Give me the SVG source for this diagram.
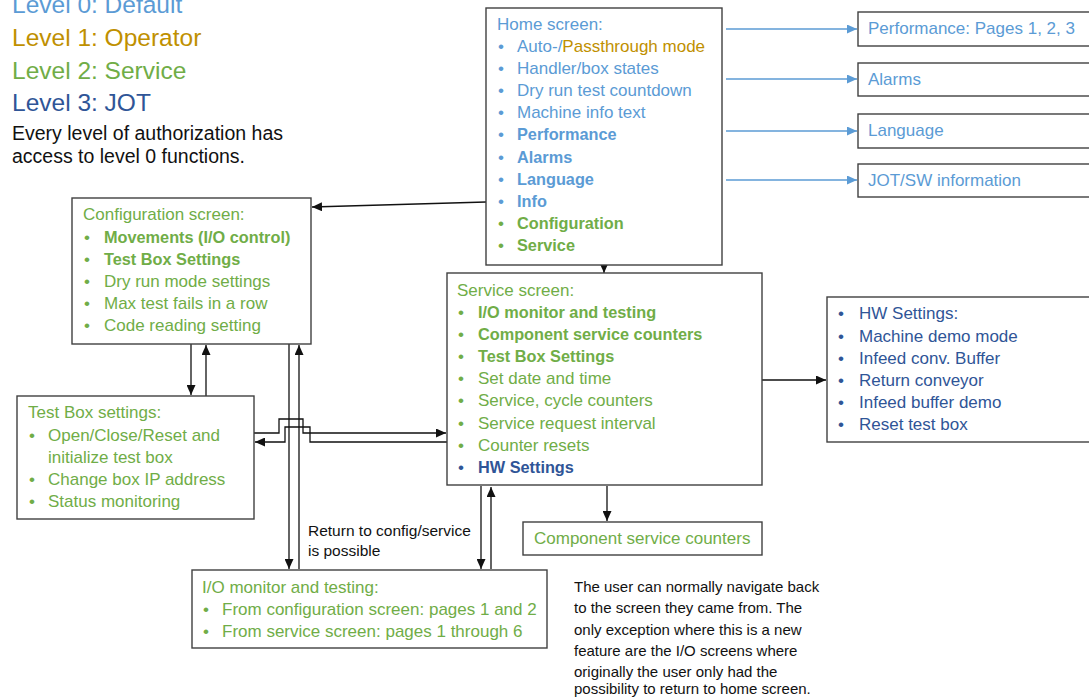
<svg xmlns="http://www.w3.org/2000/svg" width="1089" height="697" viewBox="0 0 1089 697">
<style>
text{font-family:"Liberation Sans",Arial,sans-serif;font-size:17px}
.lb{fill:#5B9BD5}.or{fill:#BF9000}.gr{fill:#70AD47}.db{fill:#2F5597}.bk{fill:#111}
.b{font-weight:bold;font-size:16.3px}
.box{fill:#fff;stroke:#404040;stroke-width:1.4}
.c{fill:none;stroke:#111;stroke-width:1.3}
.cb{fill:none;stroke:#5B9BD5;stroke-width:1.3}
.leg{font-size:24.5px}
.note{font-size:15px}
</style>
<defs>
<marker id="ah" markerUnits="userSpaceOnUse" markerWidth="11" markerHeight="9" refX="10" refY="4.5" orient="auto"><path d="M0,0 L10,4.5 L0,9 z" fill="#111"/></marker>
<marker id="ahb" markerUnits="userSpaceOnUse" markerWidth="11" markerHeight="9" refX="10" refY="4.5" orient="auto"><path d="M0,0 L10,4.5 L0,9 z" fill="#5B9BD5"/></marker>
</defs>
<rect width="1089" height="697" fill="#fff"/>

<g id="legend">
<text class="leg lb" x="12" y="13">Level 0: Default</text>
<text class="leg or" x="12" y="46">Level 1: Operator</text>
<text class="leg gr" x="12" y="79">Level 2: Service</text>
<text class="leg db" x="12" y="111">Level 3: JOT</text>
<text class="bk" style="font-size:19.5px" x="12" y="140">Every level of authorization has</text>
<text class="bk" style="font-size:19.5px" x="12" y="163">access to level 0 functions.</text>
</g>

<g id="connectors">
<line class="cb" x1="726" y1="29" x2="857" y2="29" marker-end="url(#ahb)"/>
<line class="cb" x1="726" y1="79" x2="857" y2="79" marker-end="url(#ahb)"/>
<line class="cb" x1="726" y1="131" x2="857" y2="131" marker-end="url(#ahb)"/>
<line class="cb" x1="726" y1="180" x2="857" y2="180" marker-end="url(#ahb)"/>
<line class="c" x1="486" y1="202" x2="312" y2="207" marker-end="url(#ah)"/>
<line class="c" x1="604" y1="262" x2="604" y2="273" marker-end="url(#ah)"/>
<line class="c" x1="191" y1="344" x2="191" y2="395" marker-end="url(#ah)"/>
<line class="c" x1="206" y1="396" x2="206" y2="345" marker-end="url(#ah)"/>
<line class="c" x1="289" y1="344" x2="289" y2="569" marker-end="url(#ah)"/>
<line class="c" x1="299" y1="569" x2="299" y2="345" marker-end="url(#ah)"/>
<polyline class="c" points="254,433 279,433 279,419 303,419 303,433 446,433" marker-end="url(#ah)"/>
<polyline class="c" points="447,442 310,442 310,427 285,427 285,442 255,442" marker-end="url(#ah)"/>
<line class="c" x1="762" y1="380" x2="826" y2="380" marker-end="url(#ah)"/>
<line class="c" x1="607" y1="486" x2="607" y2="521" marker-end="url(#ah)"/>
<line class="c" x1="481" y1="486" x2="481" y2="569" marker-end="url(#ah)"/>
<line class="c" x1="491" y1="569" x2="491" y2="487" marker-end="url(#ah)"/>
</g>

<g id="home">
<rect class="box" x="486" y="8" width="236" height="257"/>
<text class="lb" x="497" y="30">Home screen:</text>
<g class="lb">
<text x="498" y="52">•</text><text x="517" y="52">Auto-/<tspan class="or">Passthrough mode</tspan></text>
<text x="498" y="74">•</text><text x="517" y="74">Handler/box states</text>
<text x="498" y="96">•</text><text x="517" y="96">Dry run test countdown</text>
<text x="498" y="118">•</text><text x="517" y="118">Machine info text</text>
<text x="498" y="140">•</text><text class="b" x="517" y="140">Performance</text>
<text x="498" y="163">•</text><text class="b" x="517" y="163">Alarms</text>
<text x="498" y="185">•</text><text class="b" x="517" y="185">Language</text>
<text x="498" y="207">•</text><text class="b" x="517" y="207">Info</text>
</g>
<g class="gr">
<text x="498" y="229">•</text><text class="b" x="517" y="229">Configuration</text>
<text x="498" y="251">•</text><text class="b" x="517" y="251">Service</text>
</g>
</g>

<g id="performance"><rect class="box" x="858" y="12" width="232" height="34"/><text class="lb" x="868" y="34">Performance: Pages 1, 2, 3</text></g>
<g id="alarms"><rect class="box" x="858" y="63" width="232" height="33"/><text class="lb" x="868" y="85">Alarms</text></g>
<g id="language"><rect class="box" x="858" y="114" width="232" height="34"/><text class="lb" x="868" y="136">Language</text></g>
<g id="jotsw"><rect class="box" x="858" y="164" width="232" height="33"/><text class="lb" x="868" y="186">JOT/SW information</text></g>

<g id="config">
<rect class="box" x="72" y="198" width="239" height="146"/>
<g class="gr">
<text x="83" y="220">Configuration screen:</text>
<text x="84" y="243">•</text><text class="b" x="104" y="243">Movements (I/O control)</text>
<text x="84" y="265">•</text><text class="b" x="104" y="265">Test Box Settings</text>
<text x="84" y="287">•</text><text x="104" y="287">Dry run mode settings</text>
<text x="84" y="309">•</text><text x="104" y="309">Max test fails in a row</text>
<text x="84" y="331">•</text><text x="104" y="331">Code reading setting</text>
</g>
</g>

<g id="service">
<rect class="box" x="447" y="273" width="315" height="212"/>
<g class="gr">
<text x="457" y="296">Service screen:</text>
<text x="458" y="318">•</text><text class="b" x="478" y="318">I/O monitor and testing</text>
<text x="458" y="340">•</text><text class="b" x="478" y="340">Component service counters</text>
<text x="458" y="362">•</text><text class="b" x="478" y="362">Test Box Settings</text>
<text x="458" y="384">•</text><text x="478" y="384">Set date and time</text>
<text x="458" y="406">•</text><text x="478" y="406">Service, cycle counters</text>
<text x="458" y="429">•</text><text x="478" y="429">Service request interval</text>
<text x="458" y="451">•</text><text x="478" y="451">Counter resets</text>
</g>
<text class="db" x="458" y="473">•</text><text class="db b" x="478" y="473">HW Settings</text>
</g>

<g id="hw">
<rect class="box" x="827" y="297" width="263" height="145"/>
<g class="db">
<text x="838" y="319">•</text><text x="859" y="319">HW Settings:</text>
<text x="838" y="342">•</text><text x="859" y="342">Machine demo mode</text>
<text x="838" y="364">•</text><text x="859" y="364">Infeed conv. Buffer</text>
<text x="838" y="386">•</text><text x="859" y="386">Return conveyor</text>
<text x="838" y="408">•</text><text x="859" y="408">Infeed buffer demo</text>
<text x="838" y="430">•</text><text x="859" y="430">Reset test box</text>
</g>
</g>

<g id="testbox">
<rect class="box" x="17" y="396" width="237" height="123"/>
<g class="gr">
<text x="28" y="418">Test Box settings:</text>
<text x="29" y="441">•</text><text x="48" y="441">Open/Close/Reset and</text>
<text x="48" y="463">initialize test box</text>
<text x="29" y="485">•</text><text x="48" y="485">Change box IP address</text>
<text x="29" y="507">•</text><text x="48" y="507">Status monitoring</text>
</g>
</g>

<g id="component">
<rect class="box" x="523" y="522" width="239" height="33"/>
<text class="gr" x="534" y="544">Component service counters</text>
</g>

<g id="io">
<rect class="box" x="192" y="570" width="355" height="78"/>
<g class="gr">
<text x="202" y="593">I/O monitor and testing:</text>
<text x="203" y="615">•</text><text x="222" y="615">From configuration screen: pages 1 and 2</text>
<text x="203" y="637">•</text><text x="222" y="637">From service screen: pages 1 through 6</text>
</g>
</g>

<g id="labels">
<text class="bk" style="font-size:15.5px" x="308" y="536">Return to config/service</text>
<text class="bk" style="font-size:15.5px" x="308" y="556">is possible</text>
<text class="bk note" x="574" y="592">The user can normally navigate back</text>
<text class="bk note" x="574" y="613">to the screen they came from. The</text>
<text class="bk note" x="574" y="635">only exception where this is a new</text>
<text class="bk note" x="574" y="656">feature are the I/O screens where</text>
<text class="bk note" x="574" y="677">originally the user only had the</text>
<text class="bk note" x="574" y="694">possibility to return to home screen.</text>
</g>
</svg>
